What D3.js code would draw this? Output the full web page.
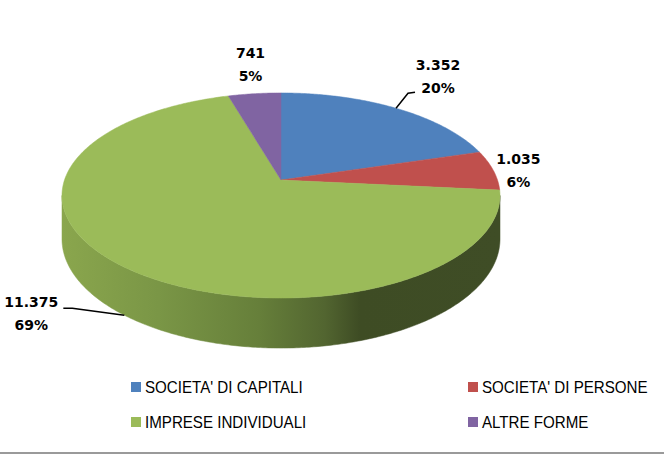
<!DOCTYPE html>
<html>
<head>
<meta charset="utf-8">
<script src="https://cdn.jsdelivr.net/npm/d3@7"></script>
<style>
  html, body { margin: 0; padding: 0; background: #fff; }
  svg { display: block; }
</style>
</head>
<body>
<svg id="chart" width="664" height="454"></svg>
<script>
// data
const categories = ["SOCIETA' DI CAPITALI", "SOCIETA' DI PERSONE", "IMPRESE INDIVIDUALI", "ALTRE FORME"];
const values = [3352, 1035, 11375, 741];
const pctLabels = ['20%', '6%', '69%', '5%'];
const colors = ['#4f81bd', '#c0504d', '#9bbb59', '#8064a2'];

const width = 664, height = 454;
const svg = d3.select('#chart');

// fake 3d pie: circle in a plane, seen with a bit of perspective
const cx = 281, cy = 180, sx = 216.5, sy = 100.2, k = 0.151, depth = 42.5;
function proj(a, r, h) {
  const px = r * Math.sin(a), py = -r * Math.cos(a), w = 1 - k * py;
  return [cx + sx * px / w, cy + (sy * py + depth * h) / w];
}
function arcPts(a0, a1, r, h) {
  const n = Math.max(2, Math.ceil(Math.abs(a1 - a0) / 0.01));
  return d3.range(n + 1).map(i => proj(a0 + (a1 - a0) * i / n, r, h));
}

const itFormat = d3.formatLocale({ decimal: ',', thousands: '.', grouping: [3], currency: ['', '€'] }).format(',d');

const pie = d3.pie().sort(null).value(d => d);
const arcs = pie(values);
const line = d3.line();

// front wall gradient (left light -> right dark)
const vis0 = Math.acos(-k), vis1 = 2 * Math.PI - vis0;
const xl = proj(vis1, 1, 0)[0], xr = proj(vis0, 1, 0)[0];
const defs = svg.append('defs');
const grad = defs.append('linearGradient')
  .attr('id', 'sideGrad')
  .attr('gradientUnits', 'userSpaceOnUse')
  .attr('x1', xl).attr('y1', 0).attr('x2', xr).attr('y2', 0);
[[0, '#8aa64d'], [0.22, '#7a9646'], [0.45, '#667f3a'], [0.6, '#526530'], [0.68, '#3e4c24'], [1, '#3f4d26']]
  .forEach(s => grad.append('stop').attr('offset', s[0]).attr('stop-color', s[1]));

// side walls (only the visible front part)
const sides = svg.append('g');
arcs.forEach((d, i) => {
  const lo = Math.max(d.startAngle, vis0), hi = Math.min(d.endAngle, vis1);
  if (lo >= hi) return;
  const pts = arcPts(lo, hi, 1, 0).concat(arcPts(hi, lo, 1, 1));
  sides.append('path')
    .attr('d', line(pts) + 'Z')
    .attr('fill', 'url(#sideGrad)')
    .attr('stroke', 'url(#sideGrad)')
    .attr('stroke-width', 0.5);
});

// top faces
svg.append('g').selectAll('path')
  .data(arcs)
  .join('path')
  .attr('d', d => line([proj(0, 0, 0)].concat(arcPts(d.startAngle, d.endAngle, 1, 0))) + 'Z')
  .attr('fill', (d, i) => colors[i])
  .attr('stroke', (d, i) => colors[i])
  .attr('stroke-width', 0.5);

// data labels: offsets from the anchor point on the rim
const labelLayout = [
  { h: 0, dx: 42, dy: -32, leader: [[12, -15], [19, -16]] },
  { h: 0, dx: 25, dy: 0, leader: null },
  { h: 1, dx: -93, dy: -2, leader: [[-52, -7], [-61, -7]] },
  { h: 0, dx: -4, dy: -29, leader: null }
];
const labels = svg.append('g')
  .style('font-family', '"DejaVu Sans", sans-serif')
  .style('font-weight', 'bold')
  .style('font-size', '14px')
  .attr('fill', '#000');
arcs.forEach((d, i) => {
  const L = labelLayout[i];
  const mid = (d.startAngle + d.endAngle) / 2;
  const p = proj(mid, 1, L.h);
  if (L.leader) {
    const pts = [p].concat(L.leader.map(o => [p[0] + o[0], p[1] + o[1]]));
    labels.append('path')
      .attr('d', line(pts))
      .attr('fill', 'none')
      .attr('stroke', '#000')
      .attr('stroke-width', 1.5);
  }
  const t = labels.append('text')
    .attr('text-anchor', 'middle')
    .attr('x', p[0] + L.dx)
    .attr('y', p[1] + L.dy);
  t.append('tspan').attr('x', p[0] + L.dx).attr('dy', '-0.45em').text(itFormat(values[i]));
  t.append('tspan').attr('x', p[0] + L.dx).attr('dy', '1.62em').text(pctLabels[i]);
});

// legend, 2 columns (text is narrow in the original, so squeeze it a bit)
const legX = [131, 468], legY = [387, 422];
const legend = svg.append('g')
  .style('font-family', '"Liberation Sans", Arial, sans-serif')
  .style('font-size', '17px');
categories.forEach((c, i) => {
  const x = legX[i % 2], y = legY[Math.floor(i / 2)];
  legend.append('rect')
    .attr('x', x).attr('y', y - 5)
    .attr('width', 10).attr('height', 10)
    .attr('fill', colors[i]);
  legend.append('text')
    .attr('transform', `translate(${x + 14},${y + 6}) scale(0.89,1)`)
    .attr('fill', '#000')
    .text(c);
});

// bottom frame line
svg.append('rect')
  .attr('x', 0).attr('y', height - 2)
  .attr('width', width).attr('height', 2)
  .attr('fill', '#9a9a9a');
</script>
</body>
</html>
